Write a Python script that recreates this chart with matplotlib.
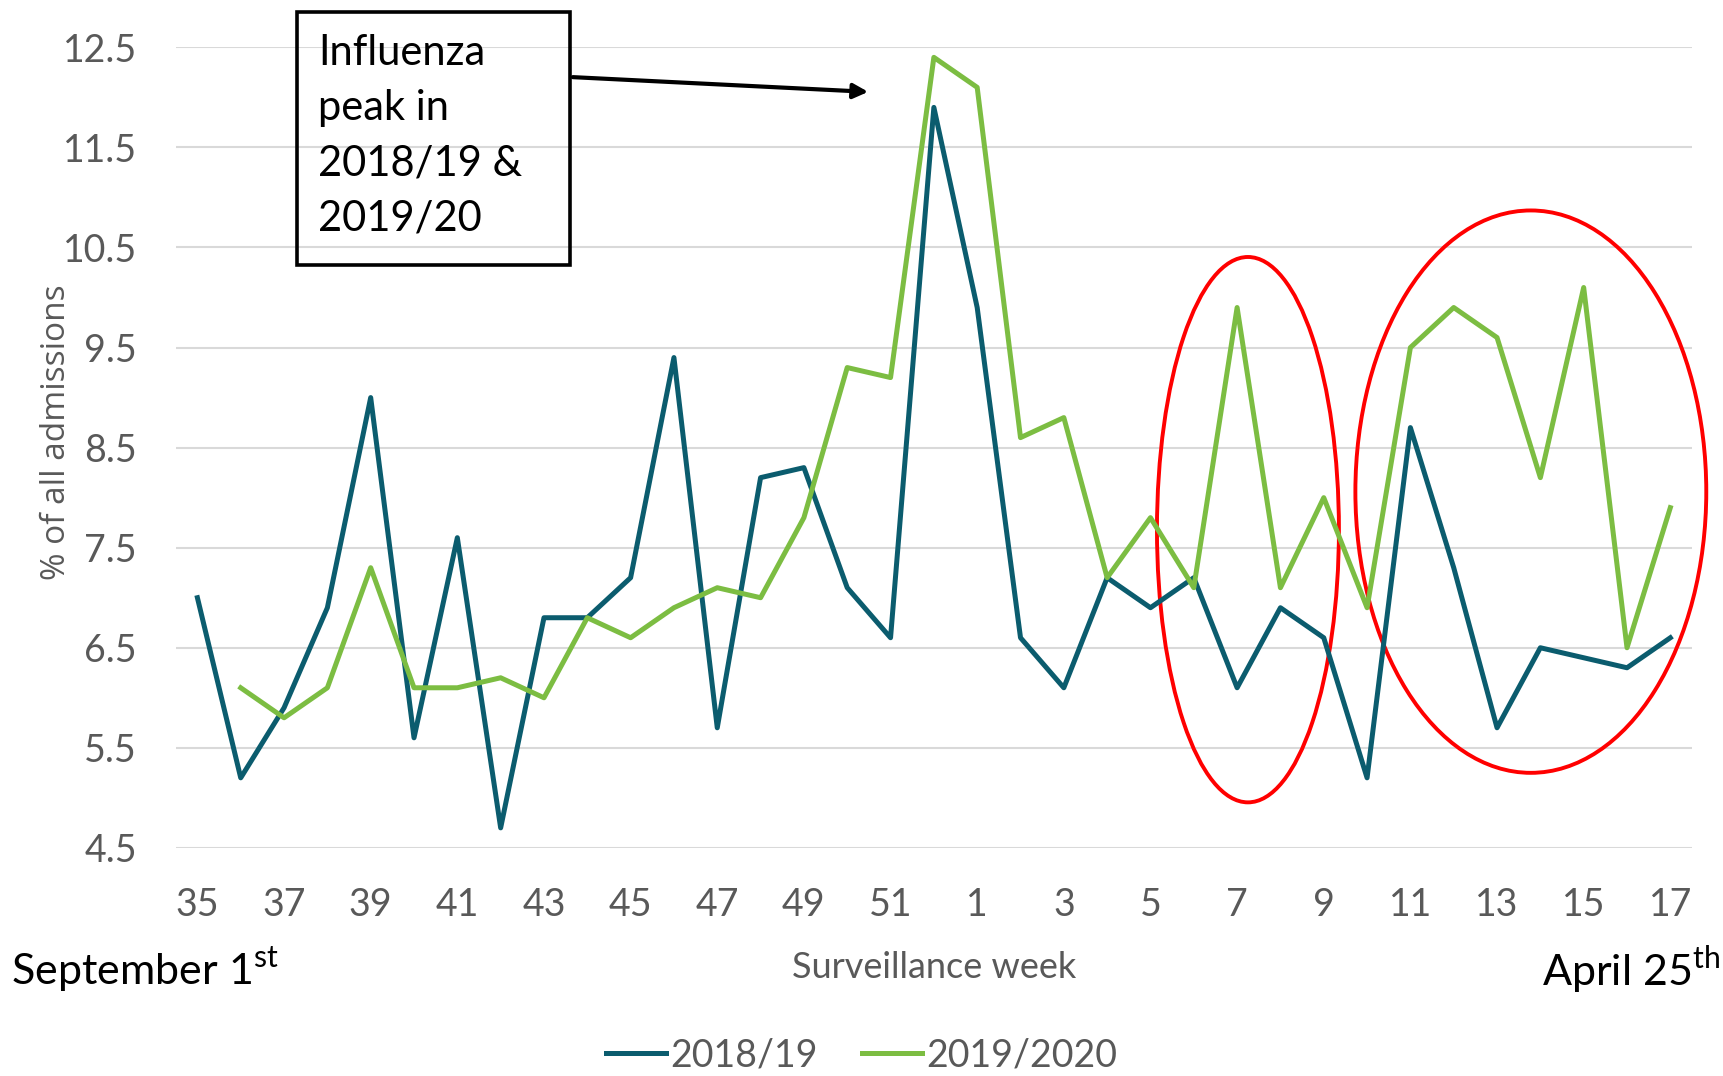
import matplotlib
matplotlib.use("Agg")
import matplotlib.pyplot as plt
from matplotlib.patches import Ellipse, Rectangle

# surveillance weeks, Sept (35) through April (17)
weeks = list(range(35, 53)) + list(range(1, 18))
tick_labels = [str(w) if i % 2 == 0 else "" for i, w in enumerate(weeks)]

season_2018 = [7.0, 5.2, 5.9, 6.9, 9.0, 5.6, 7.6, 4.7, 6.8, 6.8, 7.2, 9.4, 5.7, 8.2, 8.3, 7.1, 6.6, 11.9,
               9.9, 6.6, 6.1, 7.2, 6.9, 7.2, 6.1, 6.9, 6.6, 5.2, 8.7, 7.3, 5.7, 6.5, 6.4, 6.3, 6.6]
# 2019/2020 has no value for week 35
season_2019 = [None, 6.1, 5.8, 6.1, 7.3, 6.1, 6.1, 6.2, 6.0, 6.8, 6.6, 6.9, 7.1, 7.0, 7.8, 9.3, 9.2, 12.4,
               12.1, 8.6, 8.8, 7.2, 7.8, 7.1, 9.9, 7.1, 8.0, 6.9, 9.5, 9.9, 9.6, 8.2, 10.1, 6.5, 7.9]
y_ticks = [4.5, 5.5, 6.5, 7.5, 8.5, 9.5, 10.5, 11.5, 12.5]

TEAL = "#0b5c6e"
GREEN = "#7cbd42"
GREY = "#595959"
FONT = ["Lato", "DejaVu Sans"]

plt.rcParams["font.family"] = FONT
plt.rcParams["mathtext.fontset"] = "custom"
plt.rcParams["mathtext.rm"] = "Lato"

fig = plt.figure(figsize=(17.23, 10.76), dpi=100)
ax = fig.add_axes([0.102, 0.212, 0.880, 0.744])

x = list(range(len(weeks)))
x19 = [i for i, v in zip(x, season_2019) if v is not None]
y19 = [v for v in season_2019 if v is not None]

ax.plot(x, season_2018, color=TEAL, lw=3.6, label="2018/19")
ax.plot(x19, y19, color=GREEN, lw=3.6, label="2019/2020")

ax.set_xlim(-0.5, len(weeks) - 0.5)
ax.set_ylim(4.5, 12.5)
ax.set_yticks(y_ticks)
ax.set_yticklabels([f"{t:.1f}" for t in y_ticks])
ax.set_xticks(x)
ax.set_xticklabels(tick_labels)
ax.tick_params(length=0, labelsize=27, colors=GREY, pad=28)
ax.tick_params(axis="x", pad=28)
for s in ax.spines.values():
    s.set_visible(False)
ax.grid(axis="y", color="#d9d9d9", lw=1.5)
ax.set_axisbelow(True)

ax.set_xlabel("Surveillance week", fontsize=26, color=GREY, labelpad=20)
fig.text(0.033, 0.598, "% of all admissions", rotation=90, ha="center", va="center",
         fontsize=24, color=GREY, family=["Open Sans", "DejaVu Sans"])

# red ellipses highlighting the COVID period
ax.add_patch(Ellipse((24.25, 7.68), 4.2, 5.45, fill=False, ec="red", lw=2.8, clip_on=False))
ax.add_patch(Ellipse((30.78, 8.06), 8.1, 5.62, fill=False, ec="red", lw=2.8, clip_on=False))

# annotation box + arrow
fig.patches.append(Rectangle((297, 1076 - 265), 273, 253, transform=None, fill=False,
                             ec="black", lw=2.6, figure=fig))
fig.text(318, 1076 - 34, "Influenza\npeak in\n2018/19 &\n2019/20", transform=None,
         ha="left", va="top", fontsize=30, linespacing=1.55, color="black")
ax.annotate("", xy=(871, 1076 - 92), xytext=(570, 1076 - 77),
            xycoords="figure pixels", textcoords="figure pixels",
            arrowprops=dict(arrowstyle="-|>", lw=3, color="black", mutation_scale=22))

fig.text(11, 1076 - 970, r"September 1$^{\mathrm{st}}$", transform=None, ha="left", va="center",
         fontsize=31, color="black")
fig.text(1720, 1076 - 970, r"April 25$^{\mathrm{th}}$", transform=None, ha="right", va="center",
         fontsize=31, color="black")

leg = fig.legend(loc="center", bbox_to_anchor=(0.5, 1 - 1055 / 1076), ncol=2, frameon=False,
                 fontsize=27, handlelength=1.6, handletextpad=0.1, columnspacing=1.2)
for t in leg.get_texts():
    t.set_color(GREY)

fig.savefig("out.png", dpi=100)
